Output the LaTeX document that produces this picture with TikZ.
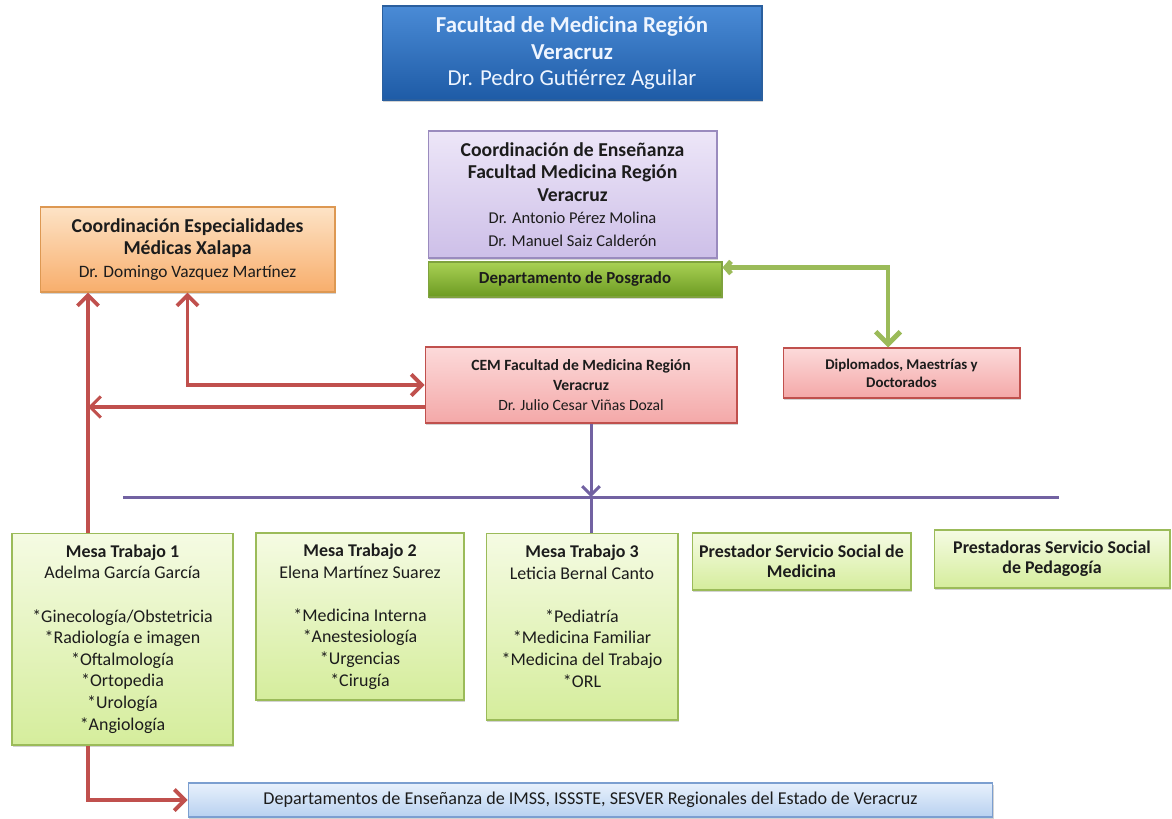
\documentclass[tikz,border=0pt]{standalone}
\usepackage{fontspec}
\setmainfont{Carlito}
\usepackage{tikz}
\usetikzlibrary{positioning,arrows.meta,shadows}

\definecolor{bluetop}{HTML}{4A8BD6}
\definecolor{bluebot}{HTML}{1E5BA6}
\definecolor{blueedge}{HTML}{2A5F9E}
\definecolor{bluetext}{HTML}{EEF5FF}
\definecolor{lilatop}{HTML}{EDE6F8}
\definecolor{lilabot}{HTML}{CDBFE8}
\definecolor{lilaedge}{HTML}{9A8BBE}
\definecolor{posgtop}{HTML}{A9D154}
\definecolor{posgbot}{HTML}{6C9A22}
\definecolor{posgedge}{HTML}{7FA23E}
\definecolor{orangetop}{HTML}{FDE3C6}
\definecolor{orangebot}{HTML}{F8AE6C}
\definecolor{orangeedge}{HTML}{DD9852}
\definecolor{rosetop}{HTML}{FCDADA}
\definecolor{rosebot}{HTML}{F4A8A8}
\definecolor{roseedge}{HTML}{C0504D}
\definecolor{mesatop}{HTML}{F5FBE3}
\definecolor{mesabot}{HTML}{D5ED9C}
\definecolor{mesaedge}{HTML}{9BBB59}
\definecolor{depttop}{HTML}{E8F1FC}
\definecolor{deptbot}{HTML}{B8D1F0}
\definecolor{deptedge}{HTML}{7C9FD0}
\definecolor{redline}{HTML}{C0504D}
\definecolor{purpleline}{HTML}{7262A2}
\definecolor{greenline}{HTML}{9BBB59}
\definecolor{boxtext}{HTML}{1C1C1C}

\begin{document}
\begin{tikzpicture}[x=0.02cm,y=-0.02cm]
\tikzstyle{box}=[rectangle, draw, line width=0.6pt, align=center, inner sep=2pt, text=boxtext, drop shadow={opacity=0.35,shadow xshift=0.8pt,shadow yshift=-1.2pt}]
\tikzstyle{bluebox}=[box, draw=blueedge, top color=bluetop, bottom color=bluebot, text=bluetext]
\tikzstyle{lilabox}=[box, draw=lilaedge, top color=lilatop, bottom color=lilabot]
\tikzstyle{posgbox}=[box, draw=posgedge, top color=posgtop, bottom color=posgbot]
\tikzstyle{orangebox}=[box, draw=orangeedge, top color=orangetop, bottom color=orangebot]
\tikzstyle{rosebox}=[box, draw=roseedge, top color=rosetop, bottom color=rosebot]
\tikzstyle{mesabox}=[box, draw=mesaedge, top color=mesatop, bottom color=mesabot, font=\fontsize{10.2}{12.3}\selectfont]
\tikzstyle{deptbox}=[box, draw=deptedge, top color=depttop, bottom color=deptbot]
\tikzstyle{redconnect}=[draw=redline, line width=2.2pt, -{Straight Barb[length=6pt,width=12pt]}]
\tikzstyle{reddouble}=[draw=redline, line width=2.2pt, {Straight Barb[length=6pt,width=12pt]}-{Straight Barb[length=6pt,width=12pt]}]
\tikzstyle{purpleconnect}=[draw=purpleline, line width=1.7pt]
\tikzstyle{greenconnect}=[draw=greenline, line width=2.8pt, {Straight Barb[length=3pt,width=7pt]}-{Straight Barb[length=7pt,width=14pt]}]
\useasboundingbox (0,0) rectangle (1172,818);

	% upper part
	\node[bluebox, minimum width=7.6cm, minimum height=1.88cm, font=\fontsize{13}{15.3}\selectfont] (facultad) at (572,53) {\textbf{Facultad de Medicina Región}\\\textbf{Veracruz}\\Dr. Pedro Gutiérrez Aguilar};
	\node[lilabox, minimum width=5.78cm, minimum height=2.54cm, font=\fontsize{11.2}{12.75}\selectfont\bfseries] (coord) at (572.5,194.5) {Coordinación de Enseñanza\\Facultad Medicina Región\\Veracruz\\{\fontsize{9.4}{11.3}\selectfont\mdseries Dr. Antonio Pérez Molina}\\{\fontsize{9.4}{11.3}\selectfont\mdseries Dr. Manuel Saiz Calderón}};
	\node[posgbox, minimum width=5.88cm, minimum height=0.7cm, font=\fontsize{9.6}{11.5}\selectfont\bfseries] (posgrado) at (575,279.5) {Departamento de Posgrado};
	\node[orangebox, minimum width=5.9cm, minimum height=1.7cm, font=\fontsize{11.2}{12.75}\selectfont] (orange) at (187.5,249.5) {\textbf{Coordinación Especialidades}\\\textbf{Médicas Xalapa}\\{\fontsize{9.9}{12.75}\selectfont Dr. Domingo Vazquez Martínez}};
	\node[rosebox, minimum width=6.24cm, minimum height=1.52cm, font=\fontsize{8.9}{11.6}\selectfont] (cem) at (581,385) {\textbf{CEM Facultad de Medicina Región}\\\textbf{Veracruz}\\Dr. Julio Cesar Viñas Dozal};
	\node[rosebox, minimum width=4.74cm, minimum height=1cm, font=\fontsize{8.45}{10.2}\selectfont\bfseries] (dipl) at (901.5,373) {Diplomados, Maestrías y\\Doctorados};

	% mesas
	\node[mesabox, minimum width=4.42cm, minimum height=4.24cm] (mesa1) at (122.5,639) {\textbf{Mesa Trabajo 1}\\Adelma García García\\[12.3pt]*Ginecología/Obstetricia\\*Radiología e imagen\\*Oftalmología\\*Ortopedia\\*Urología\\*Angiología};
	\node[mesabox, minimum width=4.16cm, minimum height=3.34cm] (mesa2) at (360,616.5) {\textbf{Mesa Trabajo 2}\\Elena Martínez Suarez\\[12.3pt]*Medicina Interna\\*Anestesiología\\*Urgencias\\*Cirugía};
	\node[mesabox, minimum width=3.84cm, minimum height=3.74cm, text depth=0.42cm] (mesa3) at (582,626.5) {\textbf{Mesa Trabajo 3}\\Leticia Bernal Canto\\[12.3pt]*Pediatría\\*Medicina Familiar\\*Medicina del Trabajo\\*ORL};
	\node[mesabox, minimum width=4.38cm, minimum height=1.14cm, font=\fontsize{10.2}{11.6}\selectfont\bfseries] (medicina) at (801.5,561.5) {Prestador Servicio Social de\\Medicina};
	\node[mesabox, minimum width=4.72cm, minimum height=1.16cm, font=\fontsize{10.2}{11.6}\selectfont\bfseries] (pedagogia) at (1052,559) {Prestadoras Servicio Social\\de Pedagogía};
	\node[deptbox, minimum width=16.1cm, minimum height=0.68cm, font=\fontsize{10.3}{12}\selectfont] (dept) at (590.5,800) {Departamentos de Enseñanza de IMSS, ISSSTE, SESVER Regionales del Estado de Veracruz};

	\coordinate (m1top) at ([xshift=-0.69cm]mesa1.north);
	\coordinate (m1bot) at ([xshift=-0.69cm]mesa1.south);
	\coordinate (cemlow) at ([yshift=-0.44cm]cem.west);
	\coordinate (cembus) at ([xshift=0.2cm]cem.south);
	\coordinate (busl) at (123,497);
	\coordinate (busr) at (1059,497);

	% connectors
	\draw[redconnect] (m1top) -- (m1top |- orange.south);
	\draw[redconnect, line width=1.8pt] (cemlow) -- (cemlow -| m1top);
	\draw[reddouble] (orange.south) |- (cem.west);
	\draw[redconnect] (m1bot) |- (dept.west);
	\draw[purpleconnect] (busl) -- (busr);
	\draw[purpleconnect, -{Straight Barb[length=5pt,width=10pt]}] (cembus) -- (cembus |- busl);
	\draw[purpleconnect] (cembus |- busl) -- (cembus |- mesa3.north);
	\draw[greenconnect] ([yshift=0.24cm]posgrado.east) -| ([xshift=-0.27cm]dipl.north);
\end{tikzpicture}
\end{document}
